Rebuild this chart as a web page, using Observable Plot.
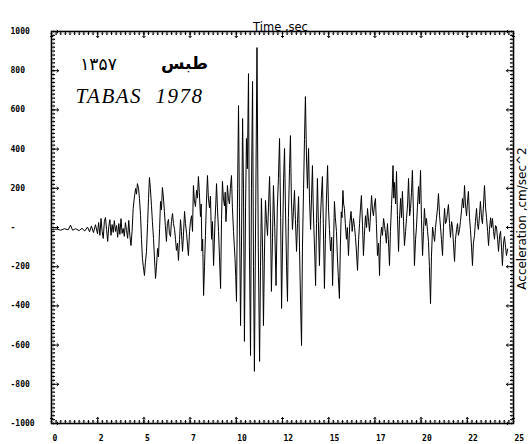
<!DOCTYPE html>
<html>
<head>
<meta charset="utf-8">
<script src="https://cdn.jsdelivr.net/npm/d3@7"></script>
<script src="https://cdn.jsdelivr.net/npm/@observablehq/plot@0.6"></script>
<style>
  html, body { margin: 0; padding: 0; background: #fff; }
  svg { display: block; }
</style>
</head>
<body>
<div id="chart"></div>
<script>
// Time (s) of each read-off vertex of the accelerogram
const times = [
  0, 0.3, 0.5, 0.7, 0.9, 1.03, 1.14, 1.3, 1.5, 1.65, 1.8, 1.95, 2.06, 2.16, 2.27, 2.38, 2.49,
  2.55, 2.62, 2.68, 2.74, 2.8, 2.86, 2.92, 2.98, 3.04, 3.1, 3.16, 3.22, 3.28, 3.34, 3.4, 3.46, 3.52, 3.58, 3.64, 3.7,
  3.76, 3.82, 3.88, 3.94, 4.0, 4.06, 4.12, 4.18, 4.24, 4.3,
  4.36, 4.42, 4.48, 4.55, 4.6, 4.65, 4.71, 4.76, 4.82, 4.87, 4.92, 4.97, 5.03, 5.08, 5.14, 5.2, 5.25, 5.3, 5.35, 5.41,
  5.46, 5.52, 5.57, 5.63, 5.68, 5.74, 5.79, 5.85, 5.9, 5.95, 6.0, 6.05, 6.11, 6.16, 6.22, 6.27, 6.33, 6.38, 6.44, 6.49,
  6.55, 6.6, 6.66, 6.71, 6.76, 6.82, 6.87, 6.93, 6.98, 7.03, 7.09, 7.14, 7.2, 7.25, 7.31, 7.36, 7.41, 7.47, 7.52, 7.58, 7.63,
  7.68, 7.73, 7.79, 7.85, 7.9, 7.95, 8.0, 8.06, 8.1, 8.14, 8.18, 8.23, 8.28, 8.33, 8.38, 8.44, 8.49, 8.55, 8.6, 8.66,
  8.71, 8.77, 8.81, 8.85, 8.89, 8.93, 8.98, 9.04, 9.09, 9.15, 9.2, 9.25, 9.3, 9.36, 9.4, 9.44, 9.48, 9.52, 9.57, 9.63,
  9.68, 9.74, 9.79, 9.85, 9.89, 9.93, 9.97, 10.01,
  10.07, 10.12, 10.17, 10.23, 10.28, 10.34, 10.39, 10.44, 10.5, 10.55, 10.6, 10.66, 10.71, 10.77, 10.82, 10.88, 10.93, 10.98, 11.05, 11.12,
  11.19, 11.26, 11.31, 11.36, 11.42, 11.47, 11.52,
  11.58, 11.63, 11.69, 11.74, 11.8, 11.85, 11.9, 11.96, 12.01, 12.08, 12.15, 12.22, 12.28, 12.34, 12.4, 12.45, 12.5, 12.56, 12.61, 12.66,
  12.72, 12.77, 12.82, 12.88, 12.93, 12.98, 13.04, 13.09, 13.15, 13.2, 13.26, 13.31, 13.37, 13.42, 13.48, 13.53, 13.58, 13.64, 13.69, 13.74,
  13.8, 13.85, 13.91, 13.96, 14.02,
  14.07, 14.12, 14.16, 14.2, 14.25, 14.29, 14.34, 14.39, 14.44, 14.5, 14.55, 14.6, 14.66, 14.71, 14.77, 14.82, 14.88, 14.94, 14.99, 15.04,
  15.1, 15.16, 15.21, 15.26, 15.31, 15.36, 15.42, 15.47, 15.52, 15.58, 15.63, 15.68, 15.72, 15.77, 15.81, 15.85, 15.9, 15.96, 16.01, 16.07,
  16.14, 16.21, 16.27, 16.34, 16.4, 16.45, 16.5, 16.56, 16.62, 16.67, 16.72, 16.77, 16.83, 16.88, 16.93, 16.99, 17.05, 17.1, 17.16, 17.21,
  17.27, 17.32, 17.37, 17.42, 17.48, 17.53, 17.58, 17.64, 17.7, 17.75, 17.8, 17.86, 17.91, 17.97, 18.02, 18.07, 18.12, 18.18, 18.23, 18.29,
  18.34, 18.4, 18.44,
  18.48, 18.52, 18.56, 18.62, 18.67, 18.72, 18.78, 18.83, 18.89, 18.94, 18.99, 19.05, 19.1, 19.16, 19.21, 19.27, 19.32, 19.38, 19.43, 19.48,
  19.53, 19.59, 19.64, 19.7, 19.75, 19.8, 19.86, 19.91, 19.97, 20.02, 20.08, 20.13, 20.18, 20.24, 20.29, 20.35, 20.4, 20.45, 20.51, 20.56,
  20.62, 20.67, 20.73, 20.78, 20.83, 20.89, 20.94, 21.0,
  21.05, 21.1, 21.16, 21.21, 21.27, 21.32, 21.37, 21.43, 21.48, 21.54, 21.59, 21.65, 21.7, 21.75, 21.81, 21.86, 21.92, 21.97, 22.02, 22.08,
  22.13, 22.19, 22.24, 22.3, 22.35, 22.4, 22.46, 22.51, 22.56, 22.62, 22.67, 22.73, 22.78, 22.83, 22.89, 22.94, 23.0, 23.05, 23.1, 23.16,
  23.21, 23.27, 23.32, 23.38, 23.43, 23.49, 23.54, 23.6, 23.65, 23.7, 23.76, 23.81, 23.86, 23.92, 23.97, 24.03, 24.08, 24.14, 24.19, 24.25,
  24.3, 24.35, 24.4, 24.46, 24.51, 24.57, 24.62, 24.68
];
// Acceleration (cm/s^2) at those times
const accel = [
  -10, -8, -14, -6, -12, 12, -14, -6, -16, -4, -18, 2, -22, 8, -26, 14, -32,
  25, -40, 46, -20, -56, 30, 51, -10, -71, 5, 40, -40, 15, -25, 35, -20, 10, -50, 20, -35,
  45, -30, -5, -45, 25, -15, -55, 36, -40, -92,
  -20, 97, 150, 199, 170, 224, 200, 148, 60, -60, -158, -200, -245, -180, -122, 20, 148, 255, 200, 112,
  30, -56, -150, -260, -200, -107, -150, -5, 133, 90, 204, 160, 82, 10, -71, 20, 41, -30, -46, 30,
  71, 20, -10, -60, -117, -80, -168, -60, 40, -20, -122, -40, 82, 20, -30, -90, -143, -20, 31, 60, -20,
  214, 140, 107, 190, 150, 260, 180, 56, 120, -120, -60, -347, -200, -40, 120, 265, 150, 100, 160, -60,
  30, -194, -80, 40, 120, 224, 100, -20, -150, -311, 40, 235, 150, 110, 180, 30, 100, 214, 150, 120,
  200, 265, 100, -20, -90, -158, -250, -377,
  200, 622, 100, -500, -100, 556, 200, -581, 100, 454, 300, 785, -100, -653, 200, 745, -200, -734, 100, 918,
  -100, -683, -200, 148, -100, -500, -150,
  138, 40, -41, 100, 260, 50, -326, -50, 214, 0, -296, 100, 250, 454, 50, -413, -100, 250, 403, 100,
  -200, -377, 50, 300, 469, 150, -10, 80, 189, 40, -122, 20, 158, -100, -400, -602, -100, 200, 450, 668,
  350, 200, 403, 150, -10,
  150, 316, 120, -10, -150, -296, 20, 250, 30, -194, 40, 150, 260, 20, -311, -60, 150, 316, 100, -10,
  -120, -50, -296, -100, 133, 50, -20, -150, -250, -362, -100, 80, 50, 189, 120, 97, 20, -60, 0, -143,
  20, 82, -20, 46, 0, -51, -120, -219, -60, 20, 100, 163, 10, -143, -40, 60, 0, 97, 30, -20,
  80, 163, 90, 60, 120, 148, 20, -143, -80, -245, -60, 2, -40, 46, 10, -26, -80, 20, -60, -194,
  -20, 117, 200,
  316, 150, 230, 120, 286, 60, -122, 40, 148, 50, 184, 30, -92, -20, 46, 120, 250, 60, 97, 180,
  291, 50, -194, -60, 2, 100, 209, 120, 291, 40, -143, -20, 97, 10, 46, -20, -71, -200, -388, -150,
  2, -30, -71, 0, 46, 100, 173, 60,
  2, -60, -143, 0, 97, 20, 30, 80, 117, 20, -51, 30, 0, -80, -173, -60, -10, 20, -40, -10,
  31, 90, 148, 100, 214, 120, 60, 130, 184, 50, -10, -100, -194, -80, -40, 30, 97, 20, -10, 60,
  133, 50, 20, 120, 214, 100, 50, -20, -92, -10, 50, 0, 46, -20, -60, 10, 2, -60, -122, -40,
  -20, -100, -194, -80, -46, -100, -143, -110
];
const xTicks = [0, 2.5, 5, 7.5, 10, 12.5, 15, 17.5, 20, 22.5, 25];
const xLabels = ["0", "2", "5", "7", "10", "12", "15", "17", "20", "22", "25"];
const yTicks = [1000, 800, 600, 400, 200, 0, -200, -400, -600, -800, -1000];
const yLabels = ["1000", "800", "600", "400", "200", "-", "-200", "-400", "-600", "-800", "-1000"];
const titleTop = "Time ,sec";
const titleRight = "Acceleration ,cm/sec^2";
const yearFa = "۱۳۵۷";
const placeFa = "طبس";
const placeEn = "TABAS\u00A0\u00A01978";

const n = Math.min(times.length, accel.length);
const data = d3.range(n).map(i => ({t: times[i], v: accel[i]}));

const W = 530, H = 444, mL = 51, mR = 17, mT = 31, mB = 21;
const xMinor = d3.range(0, 25.0001, 0.25);
const yMinor = d3.range(-1000, 1000.001, 20);
const labelFont = "DejaVu Sans Mono, monospace";
const tick = (vals, opts) => Plot.vector(vals, {anchor: "start", stroke: "#000", strokeWidth: 1, ...opts});

const chart = Plot.plot({
  width: W, height: H,
  marginLeft: mL, marginRight: mR, marginTop: mT, marginBottom: mB,
  x: {domain: [0, 25], axis: null},
  y: {domain: [-1000, 1000], axis: null},
  style: {background: "#fff", color: "#000"},
  marks: [
    // inner tick marks on all four sides
    tick(xMinor, {x: d => d, frameAnchor: "bottom", rotate: 0, length: 3}),
    tick(xTicks, {x: d => d, frameAnchor: "bottom", rotate: 0, length: 6}),
    tick(xMinor, {x: d => d, frameAnchor: "top", rotate: 180, length: 3}),
    tick(xTicks, {x: d => d, frameAnchor: "top", rotate: 180, length: 6}),
    tick(yMinor, {y: d => d, frameAnchor: "left", rotate: 90, length: 3}),
    tick(yTicks, {y: d => d, frameAnchor: "left", rotate: 90, length: 7}),
    tick(yMinor, {y: d => d, frameAnchor: "right", rotate: -90, length: 3}),
    tick(yTicks, {y: d => d, frameAnchor: "right", rotate: -90, length: 7}),
    Plot.frame({stroke: "#000", strokeWidth: 1.6}),
    Plot.line(data, {x: "t", y: "v", stroke: "#000", strokeWidth: 1}),
    // tick labels
    Plot.text(xTicks, {x: d => d, frameAnchor: "bottom", dy: 17, dx: 1, textAnchor: "start",
      text: (d, i) => xLabels[i], fontFamily: labelFont, fontSize: 8, fontWeight: "bold"}),
    Plot.text(yTicks, {y: d => d, frameAnchor: "left", dx: -41, textAnchor: "start",
      text: (d, i) => yLabels[i], fontFamily: labelFont, fontSize: 8, fontWeight: "bold"}),
    // axis titles
    Plot.text([titleTop], {frameAnchor: "top", dy: -9, dx: -2, textAnchor: "middle",
      fontFamily: "DejaVu Sans", fontSize: 11.5}),
    Plot.text([titleRight], {frameAnchor: "right", dx: 9, dy: -9, rotate: -90, textAnchor: "middle",
      fontFamily: "DejaVu Sans", fontSize: 12}),
    // annotations
    Plot.text([yearFa], {frameAnchor: "top-left", dx: 47, dy: 26, textAnchor: "middle",
      fontFamily: "DejaVu Sans", fontSize: 17}),
    Plot.text([placeFa], {frameAnchor: "top-left", dx: 133, dy: 25, textAnchor: "middle",
      fontFamily: "DejaVu Sans", fontSize: 17, fontWeight: "bold"}),
    Plot.text([placeEn], {frameAnchor: "top-left", dx: 24, dy: 57, textAnchor: "start",
      fontFamily: "Liberation Serif", fontStyle: "italic", fontSize: 21})
  ]
});
d3.select(chart).selectAll("text").filter(function() { return this.textContent === placeEn; })
  .style("letter-spacing", "1.5px");
document.getElementById("chart").appendChild(chart);
</script>
</body>
</html>
